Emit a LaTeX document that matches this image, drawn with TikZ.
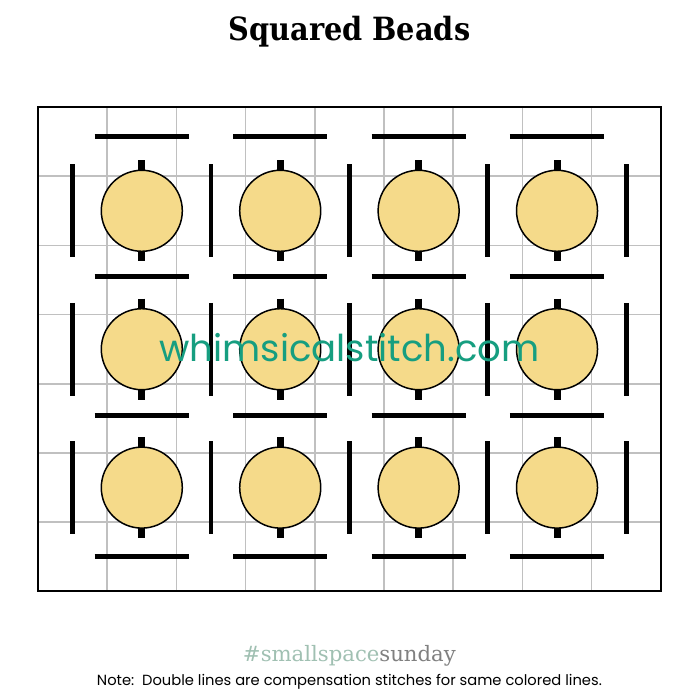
\documentclass[tikz,border=0pt]{standalone}
\usepackage{fontspec}
\setmainfont{DejaVu Serif}
\newfontfamily\titlefont{DejaVu Serif Condensed}
\newfontfamily\geofont{Poppins}

\definecolor{beadfill}{RGB}{245,218,138}
\definecolor{gridgray}{RGB}{192,192,192}
\definecolor{webteal}{RGB}{22,158,128}
\definecolor{hashgreen}{RGB}{160,192,178}
\definecolor{hashgray}{RGB}{128,128,128}

\def\cellsize{69.2pt}

\begin{document}
\begin{tikzpicture}[x=\cellsize,y=-\cellsize]
    \tikzstyle{bead}=[circle,draw=black,line width=1.5pt,fill=beadfill,minimum size=81pt,inner sep=0pt]
    \tikzstyle{bar}=[line width=4.8pt]
    \tikzstyle{stub}=[line width=7pt]
    \tikzstyle{gridline}=[draw=gridgray,line width=1.5pt]

    \useasboundingbox[fill=white] (-0.549,-1.546) rectangle (9.566,8.569);

    % canvas
    \foreach \i in {1,...,8}
        \draw[gridline] (\i,0) -- (\i,7);
    \foreach \j in {1,...,6}
        \draw[gridline] (0,\j) -- (9,\j);
    \draw[line width=2pt] (0,0) rectangle (9,7);

    % long stitches
    \foreach \y in {0.43,2.45,4.46,6.49}
        \foreach \i in {0,...,3}
            \draw[bar] (0.82+2*\i,\y) -- (2.18+2*\i,\y);
    \foreach \x in {0.5,2.5,4.5,6.5,8.5}
        \foreach \j in {0,...,2}
            \draw[bar] (\x,0.83+2*\j) -- (\x,2.17+2*\j);

    % beads
    \foreach \i in {0,...,3}
        \foreach \j in {0,...,2} {
            \draw[stub] (1.5+2*\i,0.77+2*\j) -- (1.5+2*\i,2.23+2*\j);
            \node[bead] (bead-\i-\j) at (1.5+2*\i,1.5+2*\j) {};
        }

    \node[anchor=base,font=\titlefont\bfseries\fontsize{32}{34}\selectfont] (title) at (4.5,-0.958) {Squared Beads};
    \node[anchor=base,text=webteal,font=\geofont\fontsize{37}{40}\selectfont] (site) at (4.5,3.68) {whimsicalstitch.com};
    \node[anchor=base,font=\fontsize{21.2}{23}\selectfont] (hashtag) at (4.5,8.017) {\textcolor{hashgreen}{\#smallspace}\textcolor{hashgray}{sunday}};
    \node[anchor=base,font=\geofont\fontsize{14.7}{16}\selectfont] (note) at (4.5,8.353) {Note:\ \ Double lines are compensation stitches for same colored lines.};
\end{tikzpicture}
\end{document}
